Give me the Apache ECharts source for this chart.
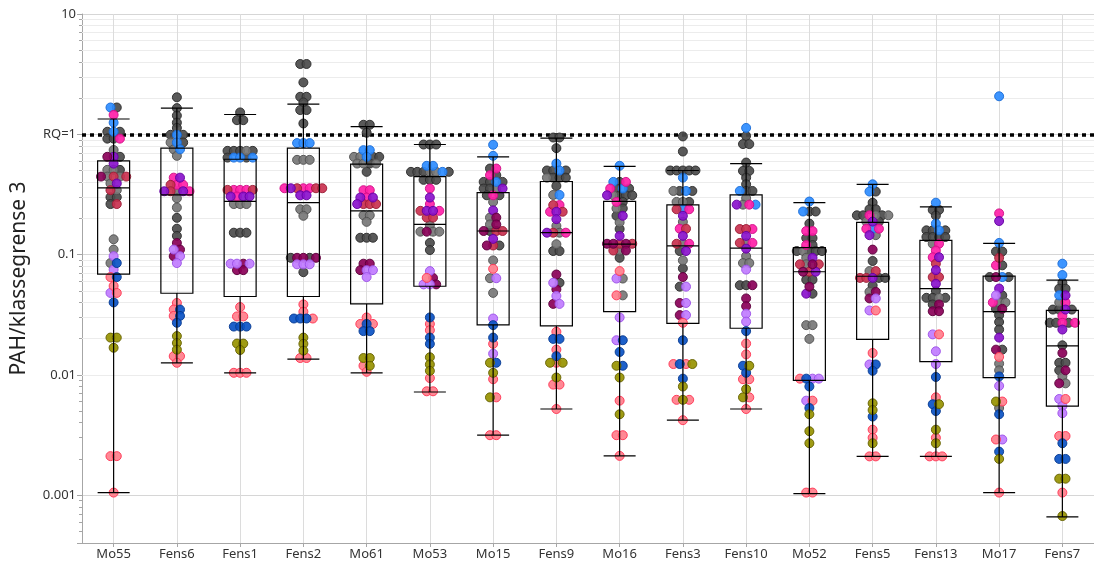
<!DOCTYPE html>
<html>
<head>
<meta charset="utf-8">
<script src="https://cdn.jsdelivr.net/npm/echarts@6/dist/echarts.min.js"></script>
<style>
  html, body { margin: 0; padding: 0; background: #fff; }
  #chart { width: 1094px; height: 565px; }
</style>
</head>
<body>
<div id="chart"></div>
<script>
// stations along the x axis
var categories = ["Mo55", "Fens6", "Fens1", "Fens2", "Mo61", "Mo53", "Mo15", "Fens9",
  "Mo16", "Fens3", "Fens10", "Mo52", "Fens5", "Fens13", "Mo17", "Fens7"];

// points per station: [value, colour group]
// k dark grey, g grey, b blue, p pink, c crimson, v violet, m dark magenta,
// l lilac, r light red, d dark blue, o olive
var Mo55 = [[1.67,'b'],[1.67,'k'],[1.45,'p'],[1.25,'b'],[1.05,'k'],[1.05,'b'],[1.05,'k'],
  [0.92,'k'],[0.92,'k'],[0.92,'p'],[0.74,'g'],[0.65,'m'],[0.65,'v'],[0.65,'k'],[0.57,'v'],
  [0.506,'g'],[0.506,'g'],[0.506,'k'],[0.445,'m'],[0.445,'g'],[0.445,'c'],[0.445,'g'],[0.445,'c'],
  [0.39,'g'],[0.39,'v'],[0.343,'c'],[0.343,'g'],[0.30,'k'],[0.30,'k'],[0.263,'k'],[0.263,'c'],
  [0.134,'g'],[0.110,'g'],[0.097,'l'],[0.085,'g'],[0.085,'d'],[0.075,'l'],[0.065,'r'],[0.065,'d'],
  [0.0548,'r'],[0.048,'l'],[0.048,'r'],[0.040,'d'],[0.0204,'o'],[0.0204,'o'],[0.0168,'o'],
  [0.00211,'r'],[0.00211,'r'],[0.00105,'r']];
var Fens6 = [[2.03,'k'],[1.65,'k'],[1.43,'k'],[1.25,'k'],[1.13,'k'],[0.99,'k'],[0.99,'b'],[0.99,'k'],
  [0.855,'g'],[0.855,'b'],[0.855,'k'],[0.75,'g'],[0.75,'b'],[0.662,'g'],[0.436,'p'],[0.436,'v'],
  [0.38,'c'],[0.38,'p'],[0.38,'p'],[0.336,'v'],[0.336,'c'],[0.336,'g'],[0.336,'v'],[0.336,'p'],
  [0.294,'g'],[0.246,'g'],[0.202,'k'],[0.164,'k'],[0.143,'k'],[0.125,'m'],[0.110,'l'],[0.110,'m'],
  [0.097,'m'],[0.097,'l'],[0.085,'l'],[0.0396,'r'],[0.0349,'r'],[0.0349,'d'],[0.0309,'r'],[0.0309,'d'],
  [0.0271,'d'],[0.0210,'o'],[0.0184,'o'],[0.0162,'o'],[0.0143,'r'],[0.0143,'r'],[0.0126,'r']];
var Fens1 = [[1.52,'k'],[1.31,'k'],[1.31,'k'],[0.728,'k'],[0.728,'k'],[0.728,'k'],[0.728,'g'],[0.728,'k'],
  [0.64,'k'],[0.64,'b'],[0.64,'b'],[0.64,'k'],[0.64,'b'],[0.345,'c'],[0.345,'p'],[0.345,'p'],[0.345,'p'],[0.345,'c'],
  [0.304,'v'],[0.304,'p'],[0.304,'v'],[0.304,'v'],[0.263,'g'],[0.263,'g'],[0.263,'g'],
  [0.152,'k'],[0.152,'k'],[0.152,'k'],[0.084,'l'],[0.084,'l'],[0.084,'m'],[0.084,'l'],[0.0742,'m'],[0.0742,'m'],
  [0.0366,'r'],[0.0306,'r'],[0.0306,'r'],[0.0252,'d'],[0.0252,'d'],[0.0252,'d'],[0.0182,'o'],[0.0182,'o'],
  [0.0161,'o'],[0.0104,'r'],[0.0104,'r'],[0.0104,'r']];
var Fens2 = [[3.84,'k'],[3.84,'k'],[2.70,'k'],[2.05,'k'],[2.05,'k'],[1.84,'k'],[1.59,'k'],[1.59,'k'],[1.23,'k'],
  [0.845,'b'],[0.845,'b'],[0.845,'b'],[0.613,'g'],[0.613,'g'],[0.613,'g'],
  [0.356,'p'],[0.356,'v'],[0.356,'c'],[0.356,'p'],[0.356,'p'],[0.356,'c'],[0.356,'c'],
  [0.311,'v'],[0.311,'v'],[0.238,'g'],[0.238,'g'],[0.21,'g'],
  [0.094,'k'],[0.094,'m'],[0.094,'m'],[0.094,'k'],[0.094,'m'],[0.083,'l'],[0.083,'l'],[0.083,'l'],[0.0714,'k'],
  [0.0385,'r'],[0.0335,'r'],[0.0294,'d'],[0.0294,'d'],[0.0294,'d'],[0.0294,'r'],
  [0.0204,'o'],[0.0181,'o'],[0.0159,'o'],[0.0138,'r'],[0.0138,'r']];
var Mo61 = [[1.20,'k'],[1.20,'k'],[1.03,'k'],[0.738,'b'],[0.738,'b'],
  [0.649,'g'],[0.649,'g'],[0.649,'b'],[0.649,'k'],[0.649,'k'],[0.571,'g'],[0.571,'g'],[0.571,'k'],[0.571,'g'],
  [0.487,'k'],[0.343,'p'],[0.343,'p'],[0.298,'v'],[0.298,'p'],[0.298,'v'],
  [0.263,'v'],[0.263,'c'],[0.263,'c'],[0.263,'c'],[0.212,'g'],[0.212,'g'],[0.187,'g'],
  [0.138,'k'],[0.138,'k'],[0.138,'k'],[0.084,'m'],[0.084,'m'],[0.0742,'m'],[0.0742,'l'],[0.0742,'l'],[0.065,'l'],
  [0.030,'r'],[0.0265,'r'],[0.0265,'d'],[0.0265,'r'],[0.0231,'d'],[0.0231,'d'],
  [0.0138,'o'],[0.0138,'o'],[0.0119,'r'],[0.0119,'o'],[0.0106,'r']];
var Mo53 = [[0.822,'k'],[0.822,'k'],[0.822,'k'],[0.547,'b'],[0.547,'b'],
  [0.487,'k'],[0.487,'k'],[0.487,'k'],[0.487,'g'],[0.487,'g'],[0.487,'b'],[0.487,'k'],
  [0.418,'k'],[0.418,'k'],[0.418,'k'],[0.354,'p'],[0.298,'v'],[0.263,'p'],
  [0.231,'c'],[0.231,'v'],[0.231,'v'],[0.231,'p'],[0.203,'c'],[0.203,'c'],[0.175,'g'],
  [0.155,'g'],[0.155,'m'],[0.155,'g'],[0.155,'g'],[0.125,'k'],[0.109,'k'],[0.0729,'l'],
  [0.064,'r'],[0.064,'m'],[0.0565,'l'],[0.0565,'l'],[0.0565,'m'],
  [0.030,'d'],[0.0265,'r'],[0.0235,'r'],[0.0204,'d'],[0.0181,'d'],
  [0.014,'o'],[0.0122,'o'],[0.0108,'o'],[0.0094,'r'],[0.0073,'r'],[0.0073,'r']];
var Mo15 = [[0.818,'b'],[0.662,'b'],[0.519,'k'],[0.519,'p'],[0.457,'p'],[0.457,'k'],
  [0.402,'k'],[0.402,'k'],[0.402,'b'],[0.402,'k'],[0.354,'k'],[0.354,'k'],[0.354,'g'],[0.354,'v'],
  [0.311,'k'],[0.311,'p'],[0.311,'k'],[0.274,'g'],[0.233,'v'],[0.203,'g'],[0.203,'m'],
  [0.178,'g'],[0.178,'m'],[0.157,'m'],[0.157,'k'],[0.157,'c'],[0.157,'c'],[0.135,'v'],
  [0.119,'m'],[0.119,'c'],[0.119,'k'],[0.0894,'g'],[0.0761,'r'],[0.0636,'g'],[0.0636,'l'],
  [0.048,'g'],[0.0294,'l'],[0.0259,'d'],[0.0204,'d'],[0.0181,'r'],[0.0150,'l'],
  [0.0126,'o'],[0.0126,'d'],[0.0104,'o'],[0.0092,'r'],[0.0065,'o'],[0.0065,'r'],
  [0.00315,'r'],[0.00315,'r']];
var Fens9 = [[0.94,'k'],[0.94,'k'],[0.767,'k'],[0.571,'b'],[0.50,'k'],[0.50,'k'],[0.50,'b'],[0.50,'k'],
  [0.436,'g'],[0.436,'k'],[0.436,'k'],[0.436,'k'],[0.372,'k'],[0.313,'g'],[0.313,'b'],
  [0.258,'c'],[0.258,'p'],[0.227,'p'],[0.227,'v'],[0.227,'c'],[0.197,'v'],[0.173,'g'],
  [0.152,'v'],[0.152,'c'],[0.152,'g'],[0.152,'p'],[0.122,'g'],[0.107,'k'],[0.107,'k'],
  [0.0683,'m'],[0.0583,'l'],[0.0583,'k'],[0.0514,'m'],[0.0453,'l'],[0.0389,'m'],[0.0389,'l'],
  [0.0228,'r'],[0.0199,'d'],[0.0199,'d'],[0.0162,'r'],[0.0143,'d'],
  [0.0126,'o'],[0.0126,'r'],[0.0126,'o'],[0.0095,'o'],[0.0083,'r'],[0.0083,'r'],[0.0052,'r']];
var Mo16 = [[0.547,'b'],[0.402,'b'],[0.402,'k'],[0.402,'p'],[0.354,'p'],[0.354,'k'],[0.354,'b'],[0.354,'k'],
  [0.311,'v'],[0.311,'g'],[0.311,'k'],[0.311,'k'],[0.311,'k'],[0.274,'p'],[0.274,'k'],
  [0.242,'g'],[0.242,'k'],[0.21,'k'],[0.21,'v'],[0.185,'g'],[0.163,'k'],[0.143,'v'],
  [0.123,'m'],[0.123,'m'],[0.123,'c'],[0.123,'m'],[0.123,'c'],[0.108,'c'],[0.108,'g'],[0.108,'m'],
  [0.094,'k'],[0.0729,'r'],[0.0632,'l'],[0.0632,'g'],[0.0458,'r'],[0.0458,'g'],[0.030,'l'],
  [0.0194,'l'],[0.0194,'d'],[0.0155,'d'],[0.0119,'o'],[0.0119,'d'],[0.0095,'o'],[0.0061,'r'],
  [0.0047,'o'],[0.00315,'r'],[0.00315,'r'],[0.00212,'r']];
var Fens3 = [[0.96,'k'],[0.719,'k'],[0.50,'k'],[0.50,'k'],[0.50,'k'],[0.50,'k'],[0.50,'k'],[0.436,'b'],
  [0.338,'g'],[0.338,'k'],[0.338,'b'],[0.338,'k'],[0.274,'g'],[0.274,'g'],[0.274,'k'],
  [0.238,'c'],[0.238,'b'],[0.238,'p'],[0.21,'v'],[0.187,'g'],[0.164,'p'],[0.164,'c'],[0.143,'v'],
  [0.123,'c'],[0.123,'g'],[0.123,'p'],[0.107,'k'],[0.107,'v'],[0.0894,'g'],[0.0767,'k'],[0.065,'m'],
  [0.0541,'k'],[0.0541,'l'],[0.0396,'m'],[0.0396,'l'],[0.0314,'m'],[0.0314,'l'],
  [0.0271,'r'],[0.0194,'d'],[0.0123,'r'],[0.0123,'d'],[0.0123,'r'],[0.0123,'o'],
  [0.0093,'d'],[0.008,'o'],[0.0062,'r'],[0.0062,'o'],[0.0062,'r'],[0.0042,'r']];
var Fens10 = [[1.13,'b'],[0.97,'k'],[0.829,'k'],[0.829,'k'],[0.582,'k'],[0.496,'k'],[0.496,'k'],
  [0.436,'k'],[0.384,'k'],[0.338,'b'],[0.338,'k'],[0.338,'k'],[0.294,'g'],
  [0.26,'v'],[0.26,'g'],[0.26,'p'],[0.26,'b'],[0.163,'c'],[0.163,'c'],[0.163,'p'],[0.143,'v'],
  [0.125,'c'],[0.125,'g'],[0.125,'p'],[0.112,'v'],[0.097,'g'],[0.085,'g'],[0.085,'g'],[0.075,'l'],
  [0.0556,'k'],[0.0556,'k'],[0.0556,'m'],[0.0432,'m'],[0.0372,'m'],[0.0322,'l'],[0.0277,'l'],
  [0.0231,'d'],[0.0182,'r'],[0.0148,'r'],[0.0119,'d'],[0.0119,'o'],[0.0104,'d'],
  [0.0092,'r'],[0.0092,'r'],[0.0076,'o'],[0.0065,'o'],[0.0065,'r'],[0.0052,'r']];
var Mo52 = [[0.276,'b'],[0.228,'b'],[0.228,'k'],[0.228,'k'],[0.181,'k'],[0.157,'p'],[0.157,'p'],
  [0.137,'k'],[0.137,'k'],[0.12,'p'],[0.12,'k'],[0.107,'k'],[0.107,'g'],[0.107,'k'],[0.107,'k'],[0.107,'k'],
  [0.094,'g'],[0.094,'v'],[0.083,'c'],[0.083,'g'],[0.083,'m'],[0.083,'c'],[0.072,'m'],[0.072,'c'],[0.072,'v'],
  [0.0618,'k'],[0.0618,'k'],[0.0541,'m'],[0.0473,'v'],[0.0473,'k'],[0.0259,'g'],[0.0259,'g'],[0.0199,'g'],
  [0.0093,'r'],[0.0093,'d'],[0.0093,'l'],[0.0093,'l'],[0.008,'d'],[0.0061,'l'],[0.0061,'r'],
  [0.0053,'d'],[0.0047,'o'],[0.0034,'o'],[0.0027,'o'],[0.00105,'r'],[0.00105,'r']];
var Fens5 = [[0.384,'b'],[0.334,'b'],[0.334,'k'],[0.27,'k'],[0.238,'k'],[0.238,'k'],
  [0.212,'k'],[0.212,'k'],[0.212,'p'],[0.212,'g'],[0.212,'k'],[0.212,'g'],[0.188,'g'],[0.188,'v'],[0.188,'k'],
  [0.164,'p'],[0.164,'b'],[0.164,'p'],[0.145,'v'],[0.145,'g'],[0.110,'m'],[0.0884,'k'],
  [0.0729,'g'],[0.0729,'c'],[0.064,'c'],[0.064,'c'],[0.064,'v'],[0.064,'k'],[0.064,'k'],[0.0555,'k'],
  [0.049,'g'],[0.049,'m'],[0.0432,'m'],[0.0432,'l'],[0.0343,'l'],[0.0343,'r'],[0.0152,'r'],
  [0.0122,'l'],[0.0122,'d'],[0.0108,'d'],[0.0058,'o'],[0.0051,'o'],[0.0045,'d'],[0.0035,'r'],
  [0.003,'r'],[0.0027,'o'],[0.0021,'r'],[0.0021,'r']];
var Fens13 = [[0.27,'b'],[0.235,'k'],[0.235,'k'],[0.211,'k'],[0.181,'b'],[0.159,'k'],[0.159,'k'],[0.159,'b'],[0.159,'k'],
  [0.14,'k'],[0.14,'k'],[0.14,'k'],[0.14,'k'],[0.123,'g'],[0.123,'p'],[0.108,'p'],[0.095,'p'],[0.095,'v'],
  [0.084,'c'],[0.0742,'v'],[0.065,'c'],[0.065,'c'],[0.0572,'v'],[0.0498,'k'],
  [0.0437,'k'],[0.0437,'k'],[0.0437,'g'],[0.0437,'k'],[0.0385,'k'],[0.0385,'m'],[0.0338,'m'],[0.0338,'m'],
  [0.0217,'l'],[0.0217,'r'],[0.0157,'l'],[0.0123,'l'],[0.0096,'d'],[0.0065,'r'],[0.0057,'d'],[0.0057,'o'],
  [0.005,'d'],[0.0035,'o'],[0.003,'r'],[0.0027,'o'],[0.0021,'r'],[0.0021,'r'],[0.0021,'r']];
var Mo17 = [[2.07,'b'],[0.22,'p'],[0.19,'v'],[0.125,'b'],[0.106,'k'],[0.106,'k'],[0.094,'c'],
  [0.0814,'p'],[0.0814,'k'],[0.065,'k'],[0.065,'m'],[0.065,'b'],[0.065,'k'],[0.0522,'v'],
  [0.0458,'l'],[0.0458,'k'],[0.040,'p'],[0.040,'g'],[0.040,'g'],[0.0354,'k'],[0.0354,'m'],
  [0.0313,'k'],[0.0275,'k'],[0.0238,'k'],[0.0204,'v'],[0.0162,'m'],[0.0162,'k'],
  [0.0141,'r'],[0.0124,'g'],[0.0109,'g'],[0.0097,'d'],[0.0081,'l'],[0.006,'o'],[0.006,'r'],
  [0.0053,'g'],[0.0047,'d'],[0.0029,'r'],[0.0029,'l'],[0.0023,'d'],[0.002,'o'],[0.00105,'r']];
var Fens7 = [[0.084,'b'],[0.0676,'b'],[0.0583,'k'],[0.052,'k'],[0.052,'k'],[0.0458,'b'],[0.0458,'v'],
  [0.040,'g'],[0.040,'p'],[0.0349,'k'],[0.0349,'k'],[0.0349,'v'],[0.0349,'k'],[0.0309,'p'],
  [0.0271,'k'],[0.0271,'k'],[0.0271,'p'],[0.0271,'k'],[0.0271,'p'],[0.0238,'v'],[0.0176,'k'],[0.0152,'m'],
  [0.0126,'k'],[0.0126,'k'],[0.0109,'k'],[0.0109,'m'],[0.0097,'g'],[0.0085,'m'],[0.0085,'g'],
  [0.0063,'l'],[0.0063,'r'],[0.0055,'l'],[0.0048,'l'],[0.0031,'r'],[0.0031,'r'],[0.0027,'d'],
  [0.002,'d'],[0.002,'d'],[0.00137,'o'],[0.00137,'o'],[0.00105,'r'],[0.00067,'o']];

var points = [Mo55, Fens6, Fens1, Fens2, Mo61, Mo53, Mo15, Fens9, Mo16, Fens3, Fens10, Mo52, Fens5, Fens13, Mo17, Fens7];

// box plot statistics per station
var whiskerLow  = [0.00105, 0.0126, 0.0104, 0.0135, 0.0104, 0.0072, 0.00315, 0.0052, 0.00212, 0.0042, 0.0052, 0.00103, 0.0021, 0.0021, 0.00105, 0.00066];
var boxQ1       = [0.0688, 0.0477, 0.0448, 0.0448, 0.0389, 0.0545, 0.026, 0.0255, 0.0335, 0.0268, 0.0244, 0.0090, 0.0197, 0.0129, 0.0095, 0.0055];
var boxMedian   = [0.358, 0.313, 0.277, 0.270, 0.231, 0.178, 0.157, 0.152, 0.122, 0.118, 0.113, 0.072, 0.066, 0.0522, 0.0336, 0.0174];
var boxQ3       = [0.60, 0.767, 0.62, 0.767, 0.565, 0.445, 0.327, 0.405, 0.277, 0.259, 0.313, 0.114, 0.185, 0.131, 0.0662, 0.0343];
var whiskerHigh = [1.34, 1.65, 1.46, 1.78, 1.16, 0.822, 0.649, 0.93, 0.541, 0.50, 0.571, 0.27, 0.384, 0.249, 0.124, 0.0613];

// y tick labels for 10^-3 .. 10^1
var yTickText = ["0.001", "0.01", "0.1", "RQ=1", "10"];

var groupKeys = ['k', 'g', 'b', 'p', 'c', 'v', 'm', 'l', 'r', 'd', 'o'];
var fills   = { k: '#4b4b4b', g: '#777777', b: '#2d8cff', p: '#ff1fa8', c: '#c9314f', v: '#8a12cc', m: '#8a0058', l: '#c07cff', r: '#ff7e8b', d: '#0a52c4', o: '#979200' };
var borders = { k: '#2b2b2b', g: '#505050', b: '#1a6bd6', p: '#cf0e86', c: '#9a1d36', v: '#6400a0', m: '#5c003c', l: '#9b50e6', r: '#ff3452', d: '#073a90', o: '#656100' };

var FONT = "Noto Sans";
var DOT_STEP = 6.3;

var myChart = echarts.init(document.getElementById("chart"));

// lay points of equal value side by side, centred on the station
var dotData = {};
groupKeys.forEach(function (k) { dotData[k] = []; });
points.forEach(function (list, ci) {
  var rows = {};
  list.forEach(function (p) {
    (rows[p[0]] = rows[p[0]] || []).push(p[1]);
  });
  Object.keys(rows).forEach(function (v) {
    var row = rows[v];
    row.forEach(function (key, i) {
      dotData[key].push({
        value: [ci, +v],
        symbolOffset: [(i - (row.length - 1) / 2) * DOT_STEP, 0]
      });
    });
  });
});

// light minor grid lines 2..9 inside each decade
var minorLines = [];
for (var e = -4; e <= 0; e++) {
  for (var m = 2; m <= 9; m++) {
    var val = +(m * Math.pow(10, e)).toPrecision(3);
    if (val > 0.0004 && val < 10) minorLines.push({ yAxis: val });
  }
}
var vLines = categories.map(function (c, i) { return { xAxis: i }; });

// helper series that only carry reference lines, kept under the marks
function lineSeries(name, lines, style) {
  return {
    name: name,
    type: "scatter",
    data: [],
    z: 1,
    silent: true,
    markLine: {
      z: 1,
      silent: true,
      symbol: ["none", "none"],
      label: { show: false },
      lineStyle: style,
      emphasis: { disabled: true },
      animation: false,
      data: lines
    }
  };
}

var series = [
  lineSeries("minor", minorLines, { color: "#ececec", width: 1, type: "solid" }),
  lineSeries("vgrid", vLines, { color: "#dcdcdc", width: 1, type: "solid" }),
  lineSeries("rq", [{ yAxis: 1 }], { color: "#000", width: 3.5, type: [4, 4] })
];

groupKeys.forEach(function (k) {
  series.push({
    name: k,
    type: "scatter",
    z: 2,
    silent: true,
    symbolSize: 9,
    itemStyle: { color: fills[k], borderColor: borders[k], borderWidth: 1, opacity: 0.92 },
    data: dotData[k]
  });
});

series.push({
  name: "box",
  type: "boxplot",
  z: 3,
  silent: true,
  boxWidth: [32, 32],
  itemStyle: { color: "rgba(0,0,0,0)", borderColor: "#000", borderWidth: 1.2 },
  data: categories.map(function (c, i) {
    return [whiskerLow[i], boxQ1[i], boxMedian[i], boxQ3[i], whiskerHigh[i]];
  })
});

var option = {
  animation: false,
  backgroundColor: "#fff",
  grid: { left: 82, right: -4, top: 14, bottom: 22 },
  xAxis: {
    type: "category",
    data: categories,
    axisLine: { lineStyle: { color: "#a6a6a6" } },
    axisTick: { show: true, alignWithLabel: true, length: 4, lineStyle: { color: "#a6a6a6" } },
    axisLabel: { color: "#333", fontSize: 13, fontFamily: FONT, margin: 5 },
    splitLine: { show: false }
  },
  yAxis: {
    type: "log",
    logBase: 10,
    min: 0.0004,
    max: 10,
    name: "PAH/klassegrense 3",
    nameLocation: "middle",
    nameGap: 52,
    nameTextStyle: { color: "#222", fontSize: 21, fontFamily: FONT },
    axisLine: { show: true, lineStyle: { color: "#a6a6a6" } },
    axisTick: { show: true, length: 5, lineStyle: { color: "#a6a6a6" } },
    minorTick: { show: true, splitNumber: 9, length: 3, lineStyle: { color: "#a6a6a6" } },
    axisLabel: {
      color: "#333",
      fontSize: 13,
      fontFamily: FONT,
      margin: 6,
      formatter: function (v) {
        var lg = Math.log10(v);
        var e = Math.round(lg);
        if (Math.abs(lg - e) > 1e-6) return "";
        return yTickText[e + 3] || "";
      }
    },
    splitLine: { show: true, lineStyle: { color: "#d6d6d6" } }
  },
  tooltip: { show: false },
  series: series
};

myChart.setOption(option);
</script>
</body>
</html>
